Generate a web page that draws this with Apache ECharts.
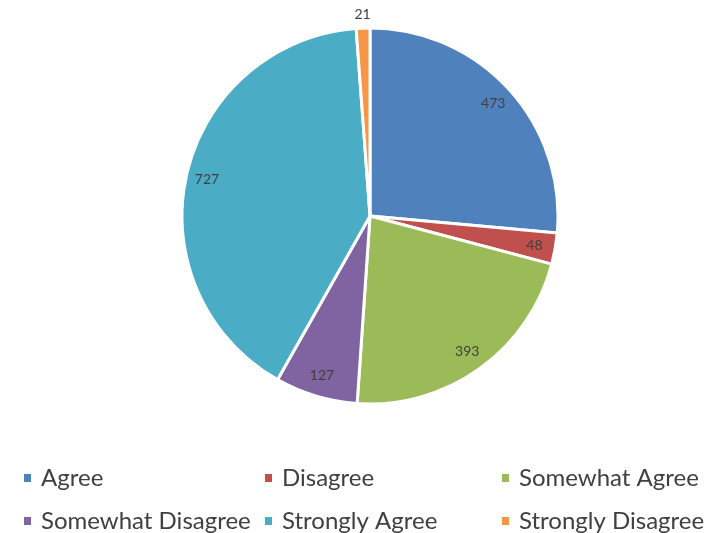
<!DOCTYPE html>
<html><head><meta charset="utf-8">
<script src="https://cdn.jsdelivr.net/npm/echarts@6/dist/echarts.min.js"></script>
<style>html,body{margin:0;padding:0;background:#fff}#c{width:714px;height:533px}</style>
</head><body><div id="c"></div>
<script>
const categories = ['Agree','Disagree','Somewhat Agree','Somewhat Disagree','Strongly Agree','Strongly Disagree'];
const values = [473, 48, 393, 127, 727, 21];
const colors = ['#4F81BD','#C0504D','#9BBB59','#8064A2','#4BACC6','#F79646'];
const outsideLabelIdx = [5];

const FONT = 'Lato, "Open Sans", sans-serif';
const chart = echarts.init(document.getElementById('c'), null, {renderer:'canvas'});
const center = [370, 216];
const mainData = categories.map((n,i)=>({name:n, value:values[i], itemStyle:{color:colors[i]}}));
const innerLbl = categories.map((n,i)=>({name:n, value:values[i], label:{show: !outsideLabelIdx.includes(i)}}));
const outerLbl = categories.map((n,i)=>({name:n, value:values[i], label:{show: outsideLabelIdx.includes(i)}}));
const lblSeriesBase = {
  type:'pie', center, startAngle:90, clockwise:true, silent:true, legendHoverLink:false,
  itemStyle:{color:'rgba(0,0,0,0)', borderWidth:0},
  label:{position:'inside', color:'#404040', fontSize:14, fontFamily:FONT, formatter:'{c}'},
  labelLine:{show:false}, emphasis:{disabled:true}, animation:false
};
const colX = [22, 263, 500];
const rowY = [478, 521];
const legends = categories.map((n,i)=>({
  orient:'horizontal', left: colX[i%3], top: rowY[Math.floor(i/3)] - 14, padding:0,
  itemWidth:9, itemHeight:10, icon:'rect', data:[n], selectedMode:false,
  textStyle:{fontSize:24, color:'#404040', fontFamily:FONT, padding:[0,0,0,4], lineHeight:28}
}));
chart.setOption({
  animation:false,
  legend: legends,
  series:[
    {type:'pie', name:'main', center, radius:[0,188], startAngle:90, clockwise:true,
     data:mainData, label:{show:false}, labelLine:{show:false},
     itemStyle:{borderColor:'#fff', borderWidth:3}, emphasis:{disabled:true}},
    Object.assign({}, lblSeriesBase, {radius:[140,188], data:innerLbl}),
    Object.assign({}, lblSeriesBase, {radius:[188,210], data:outerLbl})
  ]
});
</script></body></html>
